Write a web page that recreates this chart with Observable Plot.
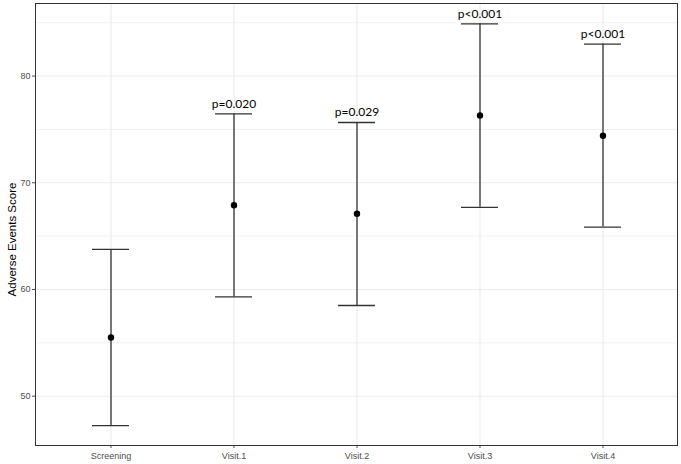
<!DOCTYPE html>
<html>
<head>
<meta charset="utf-8">
<script src="https://cdn.jsdelivr.net/npm/d3@7"></script>
<script src="https://cdn.jsdelivr.net/npm/@observablehq/plot@0.6"></script>
<style>
  html, body { margin: 0; padding: 0; background: #fff; }
  #chart svg { display: block; }
</style>
</head>
<body>
<div id="chart"></div>
<script>
const visits = ["Screening", "Visit.1", "Visit.2", "Visit.3", "Visit.4"];
const means  = [55.5, 67.9, 67.1, 76.3, 74.4];
const lowers = [47.25, 59.3, 58.5, 67.7, 65.85];
const uppers = [63.75, 76.45, 75.65, 84.9, 83.0];
const pLabels = ["", "p=0.020", "p=0.029", "p<0.001", "p<0.001"];
const majorTicks = [50, 60, 70, 80];
const minorTicks = [55, 65, 75, 85];

const data = visits.map((v, i) => ({
  visit: v, mean: means[i], lower: lowers[i], upper: uppers[i], p: pLabels[i]
}));

const chart = Plot.plot({
  width: 681,
  height: 464,
  marginLeft: 35,
  marginRight: 4,
  marginTop: 3,
  marginBottom: 19,
  style: { fontFamily: "'Liberation Sans', Arial, sans-serif", background: "#fff" },
  x: { type: "band", domain: visits, paddingInner: 0.7, paddingOuter: 0.45, label: null },
  y: { domain: [45.38, 86.8], label: null },
  marks: [
    Plot.gridY(minorTicks, { stroke: "#ebebeb", strokeOpacity: 1, strokeWidth: 0.7 }),
    Plot.gridY(majorTicks, { stroke: "#ebebeb", strokeOpacity: 1, strokeWidth: 1.1 }),
    Plot.gridX({ stroke: "#ebebeb", strokeOpacity: 1, strokeWidth: 1.1 }),
    Plot.axisY({ ticks: majorTicks, tickSize: 3, tickPadding: 2, fontSize: 9, color: "#4d4d4d",
      label: "Adverse Events Score", labelAnchor: "center", labelArrow: "none", labelOffset: 28 }),
    Plot.axisX({ tickSize: 3, tickPadding: 4, fontSize: 9, color: "#4d4d4d", label: null }),
    Plot.ruleX(data, { x: "visit", y1: "lower", y2: "upper", stroke: "#333", strokeWidth: 1.3 }),
    Plot.tickY(data, { x: "visit", y: "upper", stroke: "#333", strokeWidth: 1.3 }),
    Plot.tickY(data, { x: "visit", y: "lower", stroke: "#333", strokeWidth: 1.3 }),
    Plot.dot(data, { x: "visit", y: "mean", r: 3.2, fill: "#000", stroke: "none" }),
    Plot.text(data.filter(d => d.p), { x: "visit", y: "upper", text: "p", dy: -10,
      fontSize: 12, fill: "#000", fontFamily: "Lato, 'Open Sans', sans-serif" }),
    Plot.frame({ stroke: "#333", strokeWidth: 1 })
  ]
});
document.getElementById("chart").appendChild(chart);
// y-axis title like ggplot's axis.title (11pt, black), placed as in the reference
const yl = d3.select(chart).select('g[aria-label="y-axis label"]');
yl.attr("font-size", 11.5).attr("fill", "#000")
  .attr("transform", `translate(0,15) ${yl.attr("transform") || ""}`)
  .selectAll("text").attr("fill", "#000");
</script>
</body>
</html>
